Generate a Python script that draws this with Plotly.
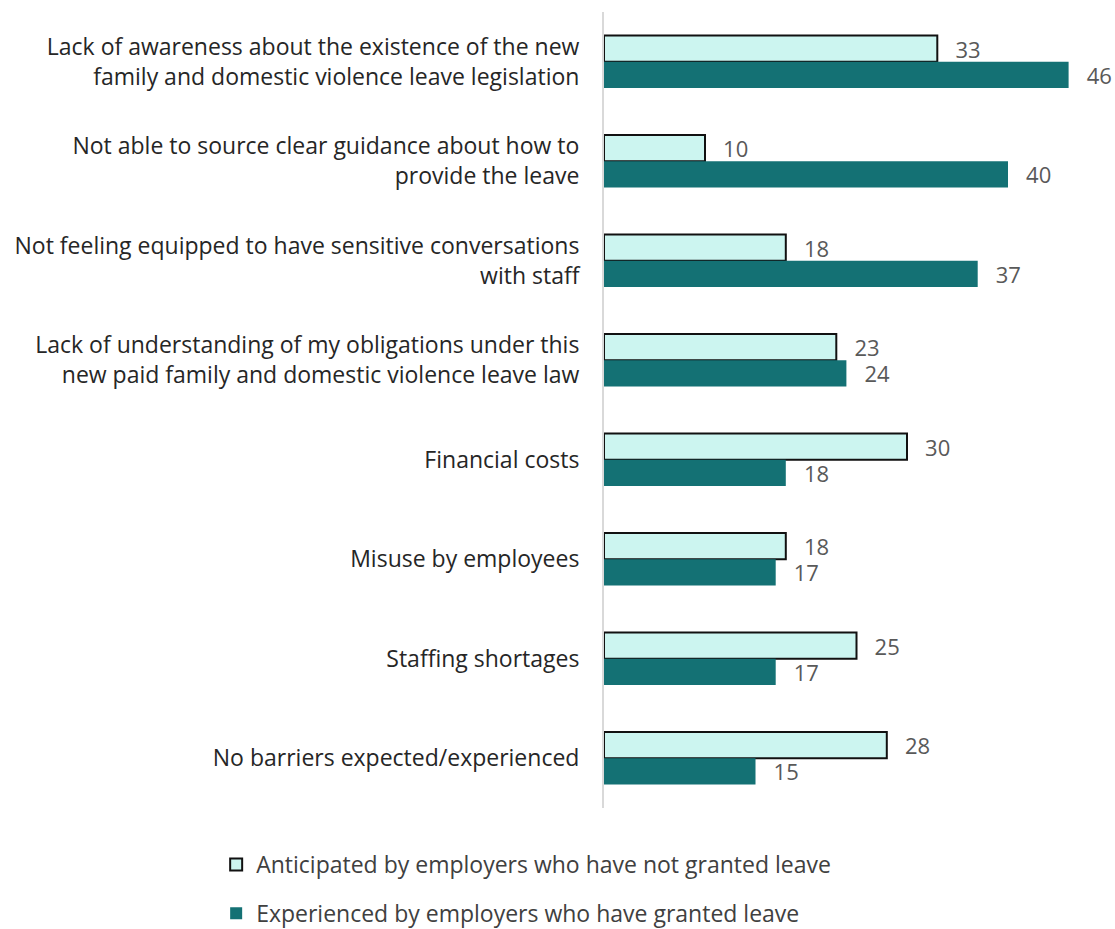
import plotly.graph_objects as go

categories = [
    "Lack of awareness about the existence of the new<br>family and domestic violence leave legislation",
    "Not able to source clear guidance about how to<br>provide the leave",
    "Not feeling equipped to have sensitive conversations<br>with staff",
    "Lack of understanding of my obligations under this<br>new paid family and domestic violence leave law",
    "Financial costs",
    "Misuse by employees",
    "Staffing shortages",
    "No barriers expected/experienced",
]
anticipated = [33, 10, 18, 23, 30, 18, 25, 28]
experienced = [46, 40, 37, 24, 18, 17, 17, 15]

series_names = [
    "Anticipated by employers who have not granted leave",
    "Experienced by employers who have granted leave",
]

FONT = "'Open Sans', Lato, sans-serif"
LIGHT = "#CCF5F0"
DARK = "#147174"
LABEL_PAD = "\u00a0\u00a0\u2009"

fig = go.Figure()
fig.add_trace(go.Bar(
    y=categories, x=anticipated, orientation="h", name=series_names[0],
    legendgroup="a",
    marker=dict(color=LIGHT, line=dict(color="#111111", width=2)),
    text=anticipated, texttemplate=LABEL_PAD + "%{x}", textposition="outside",
    textfont=dict(family=FONT, size=22, color="#595959"),
    constraintext="none", cliponaxis=False,
))
fig.add_trace(go.Bar(
    y=categories, x=experienced, orientation="h", name=series_names[1],
    legendgroup="b",
    marker=dict(color=DARK, line=dict(color=DARK, width=0)),
    text=experienced, texttemplate=LABEL_PAD + "%{x}", textposition="outside",
    textfont=dict(family=FONT, size=22, color="#595959"),
    constraintext="none", cliponaxis=False,
))

fig.update_layout(
    width=1115, height=929,
    margin=dict(l=604, r=6, t=12, b=121, autoexpand=False),
    paper_bgcolor="white", plot_bgcolor="white",
    barmode="group", bargap=0.47, bargroupgap=0,
    font=dict(family=FONT, size=23, color="#404040"),
    xaxis=dict(range=[0, 50], visible=False, fixedrange=True),
    yaxis=dict(
        autorange="reversed", showline=True, linecolor="#D9D9D9", linewidth=2,
        ticks="", ticklabelstandoff=18, showgrid=False,
        tickfont=dict(family=FONT, size=23, color="#262626"),
    ),
    legend=dict(
        x=-0.768, xanchor="left", y=-0.044, yanchor="top",
        orientation="v", traceorder="grouped", tracegroupgap=16,
        font=dict(family=FONT, size=23, color="#404040"),
        itemwidth=30,
    ),
    showlegend=True,
)

fig.write_html("out.html")
